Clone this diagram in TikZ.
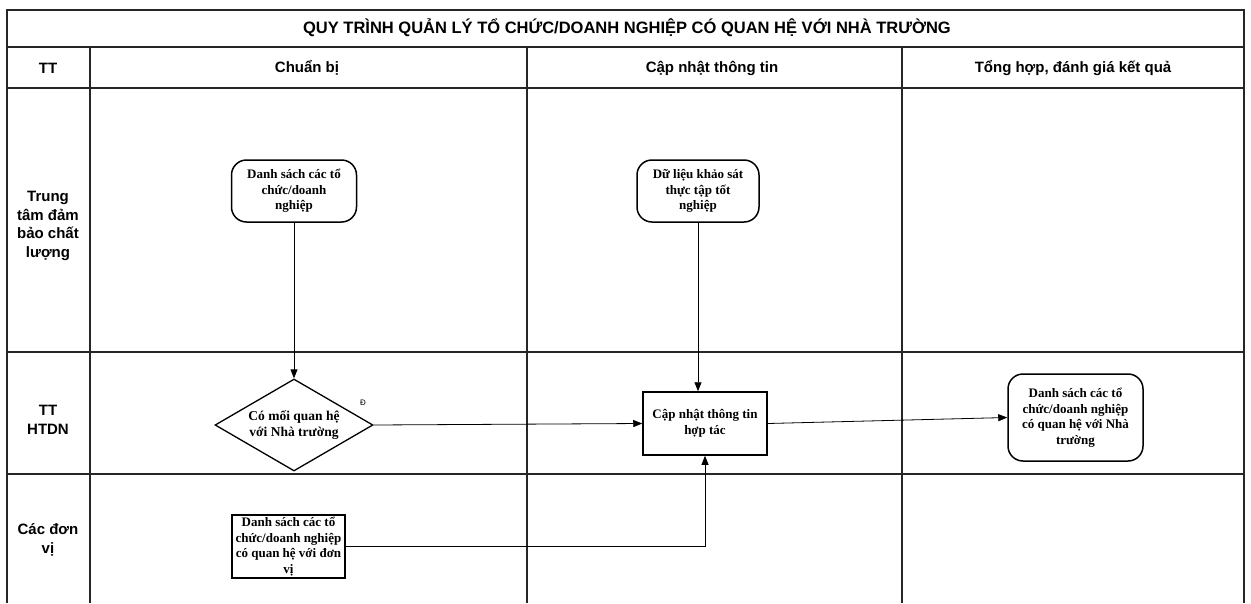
\documentclass[tikz,border=0pt]{standalone}
\usepackage{fontspec}
\setmainfont{Liberation Serif}
\newfontfamily\arialfont{Liberation Sans}
\usetikzlibrary{arrows.meta,shapes.geometric}
\begin{document}
\begin{tikzpicture}[x=1pt,y=-1pt,
  gridline/.style={draw=black!85, line width=1.1pt},
  hdr/.style={font=\arialfont\bfseries\fontsize{15}{18.5}\selectfont, align=center, inner sep=0pt},
  nodetxt/.style={font=\bfseries\fontsize{13}{15.5}\selectfont, align=center, inner sep=0pt},
  rbox/.style={nodetxt, draw, line width=1.5pt, rounded corners=15pt},
  sbox/.style={nodetxt, draw, line width=1.5pt},
  dbox/.style={nodetxt, draw, line width=1.3pt, shape=diamond, aspect=1.72},
  arr/.style={draw, line width=0.8pt, -{Triangle[length=9pt,width=7pt]}},
  conn/.style={draw, line width=0.8pt}
]
\useasboundingbox (0,0) rectangle (1251,603);
% grid
\draw[gridline] (7,603) -- (7,10) -- (1244,10) -- (1244,603);
\draw[gridline] (7,47) -- (1244,47);
\draw[gridline] (7,88) -- (1244,88);
\draw[gridline] (7,352) -- (1244,352);
\draw[gridline] (7,474) -- (1244,474);
\draw[gridline] (90,47) -- (90,603);
\draw[gridline] (527,47) -- (527,603);
\draw[gridline] (902,47) -- (902,603);
% headers
\node[hdr, font=\arialfont\bfseries\fontsize{16.5}{19}\selectfont] (title) at (627,28) {QUY TRÌNH QUẢN LÝ TỔ CHỨC/DOANH NGHIỆP CÓ QUAN HỆ VỚI NHÀ TRƯỜNG};
\node[hdr] (htt) at (48,68) {TT};
\node[hdr] (hc1) at (307,68) {Chuẩn bị};
\node[hdr] (hc2) at (712,68) {Cập nhật thông tin};
\node[hdr] (hc3) at (1073,68) {Tổng hợp, đánh giá kết quả};
\node[hdr] (l1) at (48,226) {Trung\\tâm đảm\\bảo chất\\lượng};
\node[hdr] (l2) at (48,420) {TT\\HTDN};
\node[hdr] (l3) at (48,540) {Các đơn\\vị};
% nodes
\node[rbox, minimum width=125pt, minimum height=62pt] (n1) at (294,191) {Danh sách các tổ\\chức/doanh\\nghiệp};
\node[rbox, minimum width=122pt, minimum height=62pt] (n2) at (698,191) {Dữ liệu khảo sát\\thực tập tốt\\nghiệp};
\node[dbox, minimum width=158pt, minimum height=92pt, font=\bfseries\fontsize{13.5}{16}\selectfont] (d) at (294,425) {Có mối quan hệ\\với Nhà trường};
\node[sbox, minimum width=124pt, minimum height=63pt] (r1) at (705,423.5) {Cập nhật thông tin\\hợp tác};
\node[rbox, minimum width=135pt, minimum height=87pt] (n3) at (1075.5,417.5) {Danh sách các tổ\\chức/doanh nghiệp\\có quan hệ với Nhà\\trường};
\node[sbox, minimum width=113pt, minimum height=63pt] (r2) at (288.5,546.5) {Danh sách các tổ\\chức/doanh nghiệp\\có quan hệ với đơn\\vị};
\node[font=\arialfont\fontsize{8}{9}\selectfont, inner sep=0pt] (dlab) at (363,403) {Đ};
% connectors
\draw[arr] (n1.south) -- (d.north);
\draw[arr] (n2.south) -- (n2.south |- r1.north);
\draw[arr] (d.east) -- (r1.west);
\draw[arr] (r1.east) -- (n3.west);
\draw[arr] (r2.east) -| (r1.south);
\end{tikzpicture}
\end{document}
